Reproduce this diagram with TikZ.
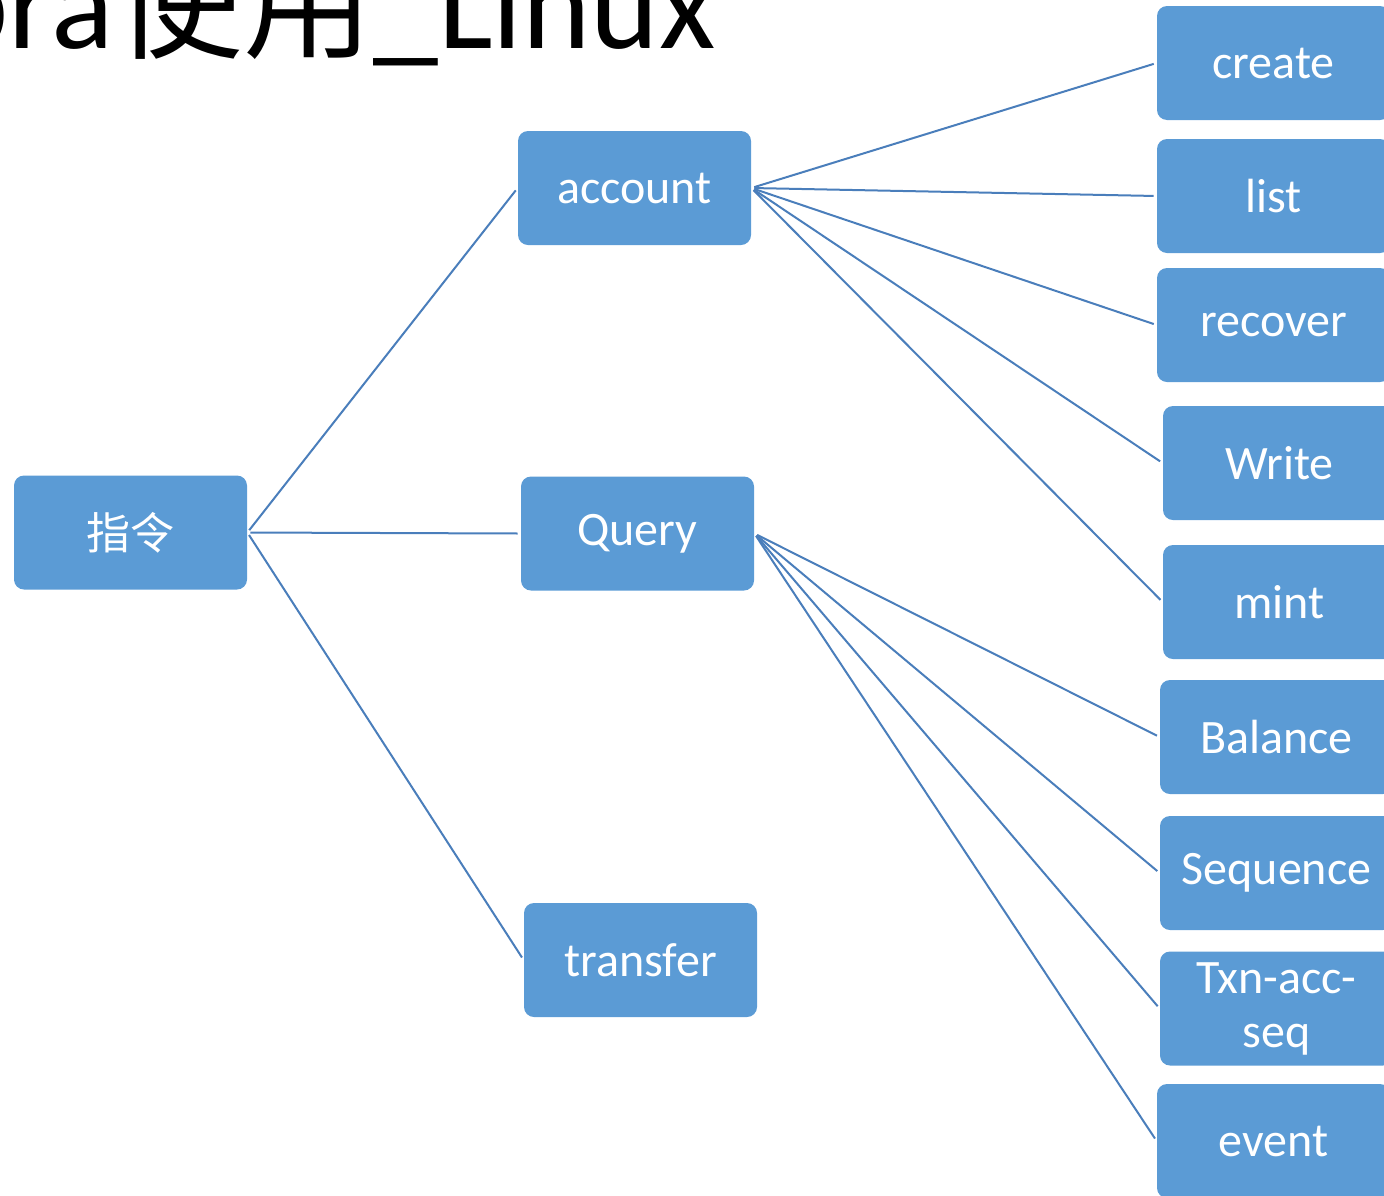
\documentclass[tikz,border=0pt]{standalone}
\usepackage{fontspec}
\setmainfont{Carlito}
\newfontfamily\cjk{Noto Sans CJK SC}
\definecolor{boxblue}{HTML}{5B9BD5}
\definecolor{lineblue}{HTML}{4A7EBB}
\begin{document}
\begin{tikzpicture}[x=0.5pt,y=-0.5pt,
  box/.style={fill=boxblue, rounded corners=5pt, minimum width=116.5pt, minimum height=57pt,
    inner sep=0pt, text=white, font=\fontsize{24}{27}\selectfont, align=center},
  conn/.style={draw=lineblue, line width=1pt, shorten <=1.5pt, shorten >=1.5pt}]
\useasboundingbox (0,0) rectangle (1384,1195);
\node[anchor=base east, inner sep=0pt, font=\fontsize{65}{70}\selectfont] (title) at (716,48) {Libra{\cjk 使用}\_Linux};

\node[box, font=\cjk\fontsize{22}{26}\selectfont] (root) at (130.5,532.5) {指令};
\node[box] (account) at (634.5,188) {account};
\node[box] (query) at (637.5,533.5) {Query};
\node[box] (transfer) at (640.5,960) {transfer};

\node[box] (create) at (1273.5,63) {create};
\node[box] (list) at (1273.5,196) {list};
\node[box] (recover) at (1273.5,325) {recover};
\node[box] (write) at (1279.5,463) {Write};
\node[box] (mint) at (1279.5,602) {mint};
\node[box] (balance) at (1276.5,737) {Balance};
\node[box] (sequence) at (1276.5,873) {Sequence};
\node[box, font=\fontsize{24}{27}\selectfont] (txn) at (1276.5,1008.5) {Txn-acc-\\seq};
\node[box] (event) at (1273.5,1141) {event};

\foreach \t in {account,query,transfer} \draw[conn] (root.east) -- (\t.west);
\foreach \t in {create,list,recover,write,mint} \draw[conn] (account.east) -- (\t.west);
\foreach \t in {balance,sequence,txn,event} \draw[conn] (query.east) -- (\t.west);
\end{tikzpicture}
\end{document}
